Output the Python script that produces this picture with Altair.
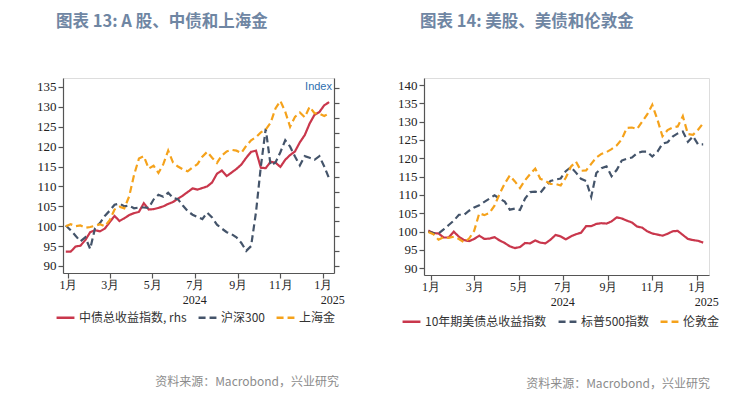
import altair as alt
import pandas as pd

# weekly observation dates (Fridays)
dates = pd.date_range("2023-12-29", periods=55, freq="7D").strftime("%Y-%m-%d").tolist()

# ---- Chart 13 ----
cgb_total = [93.6, 93.6, 94.9, 95.1, 96.5, 98.5, 99.0, 98.7, 99.4, 101.0,
             102.6, 101.3, 102.0, 102.8, 103.3, 103.6, 105.8, 104.2, 104.3, 104.6,
             105.0, 105.6, 106.1, 106.9, 107.7, 108.6, 109.5, 109.2, 109.6, 110.0,
             111.0, 113.2, 114.0, 112.6, 113.5, 114.4, 115.5, 117.2, 118.7, 119.0,
             114.7, 114.6, 116.2, 116.0, 114.9, 116.7, 117.9, 118.8, 121.1, 122.9,
             125.8, 128.0, 128.7, 130.4, 131.2]
csi300 = [100.2, 99.0, 97.6, 96.2, 97.2, 94.3, 99.5, 100.8, 102.6, 103.9,
          105.4, 105.7, 105.0, 105.2, 104.5, 104.7, 104.7, 104.6, 106.7, 107.9,
          107.4, 108.4, 107.1, 106.8, 105.2, 103.8, 102.9, 102.3, 101.8, 103.4,
          102.2, 100.4, 99.4, 98.5, 98.0, 97.2, 95.8, 93.8, 95.0, 103.5,
          115.0, 124.5, 115.3, 116.0, 118.6, 121.6, 120.0, 117.5, 115.3, 117.6,
          117.2, 116.7, 117.6, 115.0, 112.0]
sh_gold = [100.0, 100.5, 100.0, 100.2, 99.6, 99.8, 100.1, 100.5, 100.0, 101.5,
           104.2, 104.9, 104.5, 107.5, 112.9, 117.0, 117.6, 114.5, 115.2, 113.4,
           115.6, 119.0, 116.0, 115.0, 114.3, 113.8, 114.8, 115.6, 117.5, 118.7,
           117.2, 115.9, 117.8, 118.8, 119.2, 119.0, 118.4, 120.2, 121.6, 122.4,
           123.6, 124.3, 126.0, 129.6, 131.5, 128.8, 125.0, 127.5, 128.6, 127.4,
           130.0, 128.4, 128.3, 127.7, 128.4]

# ---- Chart 14 ----
ust10_total = [100.3, 99.6, 99.5, 98.4, 98.4, 100.0, 98.6, 97.7, 97.4, 98.0,
               98.9, 98.0, 98.1, 98.5, 97.6, 96.9, 96.0, 95.5, 95.8, 96.9,
               96.8, 97.6, 97.0, 96.8, 97.8, 99.1, 98.7, 97.9, 98.7, 99.3,
               99.7, 101.5, 101.5, 102.1, 102.3, 102.2, 102.8, 103.9, 103.6, 103.0,
               102.5, 101.4, 101.1, 100.1, 99.5, 99.2, 98.9, 99.4, 100.1, 100.2,
               99.1, 98.0, 97.7, 97.5, 97.0]
spx500 = [100.0, 99.6, 99.5, 100.6, 101.8, 103.0, 104.6, 104.6, 105.7, 106.6,
          107.2, 108.1, 109.0, 109.9, 109.0, 108.2, 106.0, 106.3, 105.9, 109.0,
          110.8, 110.9, 110.6, 112.3, 113.8, 114.2, 114.5, 116.5, 117.6, 116.1,
          114.4, 113.8, 109.5, 116.0, 117.3, 117.8, 115.1, 116.8, 119.4, 119.9,
          120.2, 121.4, 121.8, 121.8, 120.5, 121.8, 124.0, 124.4, 125.9, 126.8,
          127.3, 124.5, 126.0, 123.8, 123.8]
ldn_gold = [99.9, 99.3, 97.8, 98.5, 98.3, 98.6, 98.0, 97.1, 98.1, 100.2,
            105.0, 104.5, 105.1, 107.1, 110.3, 113.1, 115.3, 113.7, 111.9, 114.0,
            115.7, 117.2, 114.4, 113.8, 113.0, 113.0, 112.6, 114.7, 117.7, 119.1,
            116.6, 116.7, 118.5, 120.2, 121.2, 121.7, 122.5, 123.5, 125.2, 128.3,
            128.4, 128.0, 130.0, 132.0, 134.6, 130.6, 126.0, 127.7, 128.4, 128.7,
            131.5, 126.6, 126.4, 127.8, 129.6]

left_names = ["中债总收益指数, rhs", "沪深300", "上海金"]
right_names = ["10年期美债总收益指数", "标普500指数", "伦敦金"]
left_title = "图表 13: A 股、中债和上海金"
right_title = "图表 14: 美股、美债和伦敦金"
source_text = "资料来源：Macrobond，兴业研究"
year_labels = ["2024", "2025"]
year_dates = ["2024-07-01", "2025-01-01"]
rhs_ticks = list(range(13))

colors = ["#c9374c", "#44546a", "#f5a21b"]
dashes = [[1, 0], [7, 4], [7, 4]]
AXC = "#555555"
SERIF = "Liberation Serif"
SANS = "Noto Sans CJK SC"


def long_df(names, series):
    rows = []
    for n, vals in zip(names, series):
        for d, v in zip(dates, vals):
            rows.append({"date": d, "series": n, "value": v})
    return pd.DataFrame(rows)


def dt(y, m, d):
    return alt.DateTime(year=y, month=m, date=d, utc=True)


month_ticks = [dt(2024, 1, 1), dt(2024, 3, 1), dt(2024, 5, 1), dt(2024, 7, 1),
               dt(2024, 9, 1), dt(2024, 11, 1), dt(2025, 1, 1)]


def panel(names, series, ydomain, yticks, width, height, xdomain, legend_xy,
          title, title_dx, rhs, src_dx):
    df = long_df(names, series)
    xscale = alt.Scale(domain=xdomain)
    xaxis = alt.Axis(values=month_ticks, labelExpr="(utcmonth(datum.value)+1) + '月'",
                     grid=False, tickSize=5, tickColor=AXC, domainColor=AXC,
                     domainWidth=1.2, tickWidth=1.2, labelFont=SERIF, labelFontSize=12,
                     labelColor="#222222", labelPadding=1)
    legend = alt.Legend(title=None, orient="none", legendX=legend_xy[0], legendY=legend_xy[1],
                        direction="horizontal", symbolType="stroke", symbolSize=320,
                        symbolStrokeWidth=2.5, labelFont=SANS, labelFontSize=12,
                        labelColor="#333333", columnPadding=6, labelOffset=3)
    lines = alt.Chart(df).mark_line(strokeWidth=2.2).encode(
        x=alt.X("date:T", scale=xscale, title=None, axis=xaxis),
        y=alt.Y("value:Q", scale=alt.Scale(domain=ydomain, nice=False, zero=False), title=None,
                axis=alt.Axis(values=yticks, grid=False, tickSize=5, tickColor=AXC,
                              domainColor=AXC, domainWidth=1.2, tickWidth=1.2,
                              labelFont=SERIF, labelFontSize=13, labelColor="#222222",
                              labelPadding=2)),
        color=alt.Color("series:N", scale=alt.Scale(domain=names, range=colors), legend=legend),
        strokeDash=alt.StrokeDash("series:N", scale=alt.Scale(domain=names, range=dashes),
                                  legend=legend),
    )
    ydf = pd.DataFrame({"date": year_dates, "label": year_labels})
    y2024 = alt.Chart(ydf.iloc[[0]]).mark_text(align="center", baseline="middle", font=SERIF,
                                                fontSize=12, color="#222222").encode(
        x=alt.X("date:T", scale=xscale, title=None, axis=xaxis),
        y=alt.value(height + 27), text="label:N")
    y2025 = alt.Chart(ydf.iloc[[1]]).mark_text(align="left", baseline="middle", font=SERIF,
                                                fontSize=12, color="#222222", dx=-2).encode(
        x=alt.X("date:T", scale=xscale, title=None, axis=xaxis),
        y=alt.value(height + 27), text="label:N")
    src = alt.Chart(pd.DataFrame({"t": [source_text]})).mark_text(
        align="right", baseline="middle", font=SANS, fontSize=12, color="#8c8c8c").encode(
        x=alt.value(width + src_dx), y=alt.value(height + 109), text="t:N")
    layers = [lines, y2024, y2025, src]
    if rhs:
        rhs_layer = alt.Chart(pd.DataFrame({"v": rhs_ticks})).mark_point(opacity=0).encode(
            y=alt.Y("v:Q", scale=alt.Scale(domain=[-0.49, 12.70], nice=False, zero=False),
                    title=None,
                    axis=alt.Axis(orient="right", values=rhs_ticks, labels=False, grid=False,
                                  tickSize=5, tickColor=AXC, domainColor=AXC, domainWidth=1.2,
                                  tickWidth=1.2)))
        idx = alt.Chart(pd.DataFrame({"t": ["Index"]})).mark_text(
            align="right", baseline="middle", font="Liberation Sans", fontSize=11,
            color="#2e6fb0").encode(x=alt.value(width - 2), y=alt.value(9), text="t:N")
        layers += [rhs_layer, idx]
    ch = alt.layer(*layers).properties(
        width=width, height=height,
        title=alt.TitleParams(title, anchor="start", frame="group", dx=title_dx, font=SANS,
                              fontSize=16.5, fontWeight="bold", color="#6f86a3", offset=48))
    if rhs:
        ch = ch.resolve_scale(y="independent")
    return ch


left = panel(left_names, [cgb_total, csi300, sh_gold], [88.24, 137.26], list(range(90, 140, 5)),
             271, 195, [dt(2023, 12, 25), dt(2025, 1, 17)], (-8, 229), left_title, -7, True, 5)
right = panel(right_names, [ust10_total, spx500, ldn_gold], [88.17, 141.91],
              list(range(90, 145, 5)), 285, 197, [dt(2023, 12, 23), dt(2025, 1, 18)],
              (-23, 233), right_title, -4, False, 1)

chart = alt.hconcat(left, right, spacing=51).resolve_scale(
    color="independent", strokeDash="independent"
).resolve_legend(
    color="independent", strokeDash="independent"
).properties(
    padding={"left": 28, "top": 5, "right": 5, "bottom": 5}
).configure_view(stroke=None).configure(background="white")

chart.save("out.html", embed_options={"renderer": "svg", "actions": False})
